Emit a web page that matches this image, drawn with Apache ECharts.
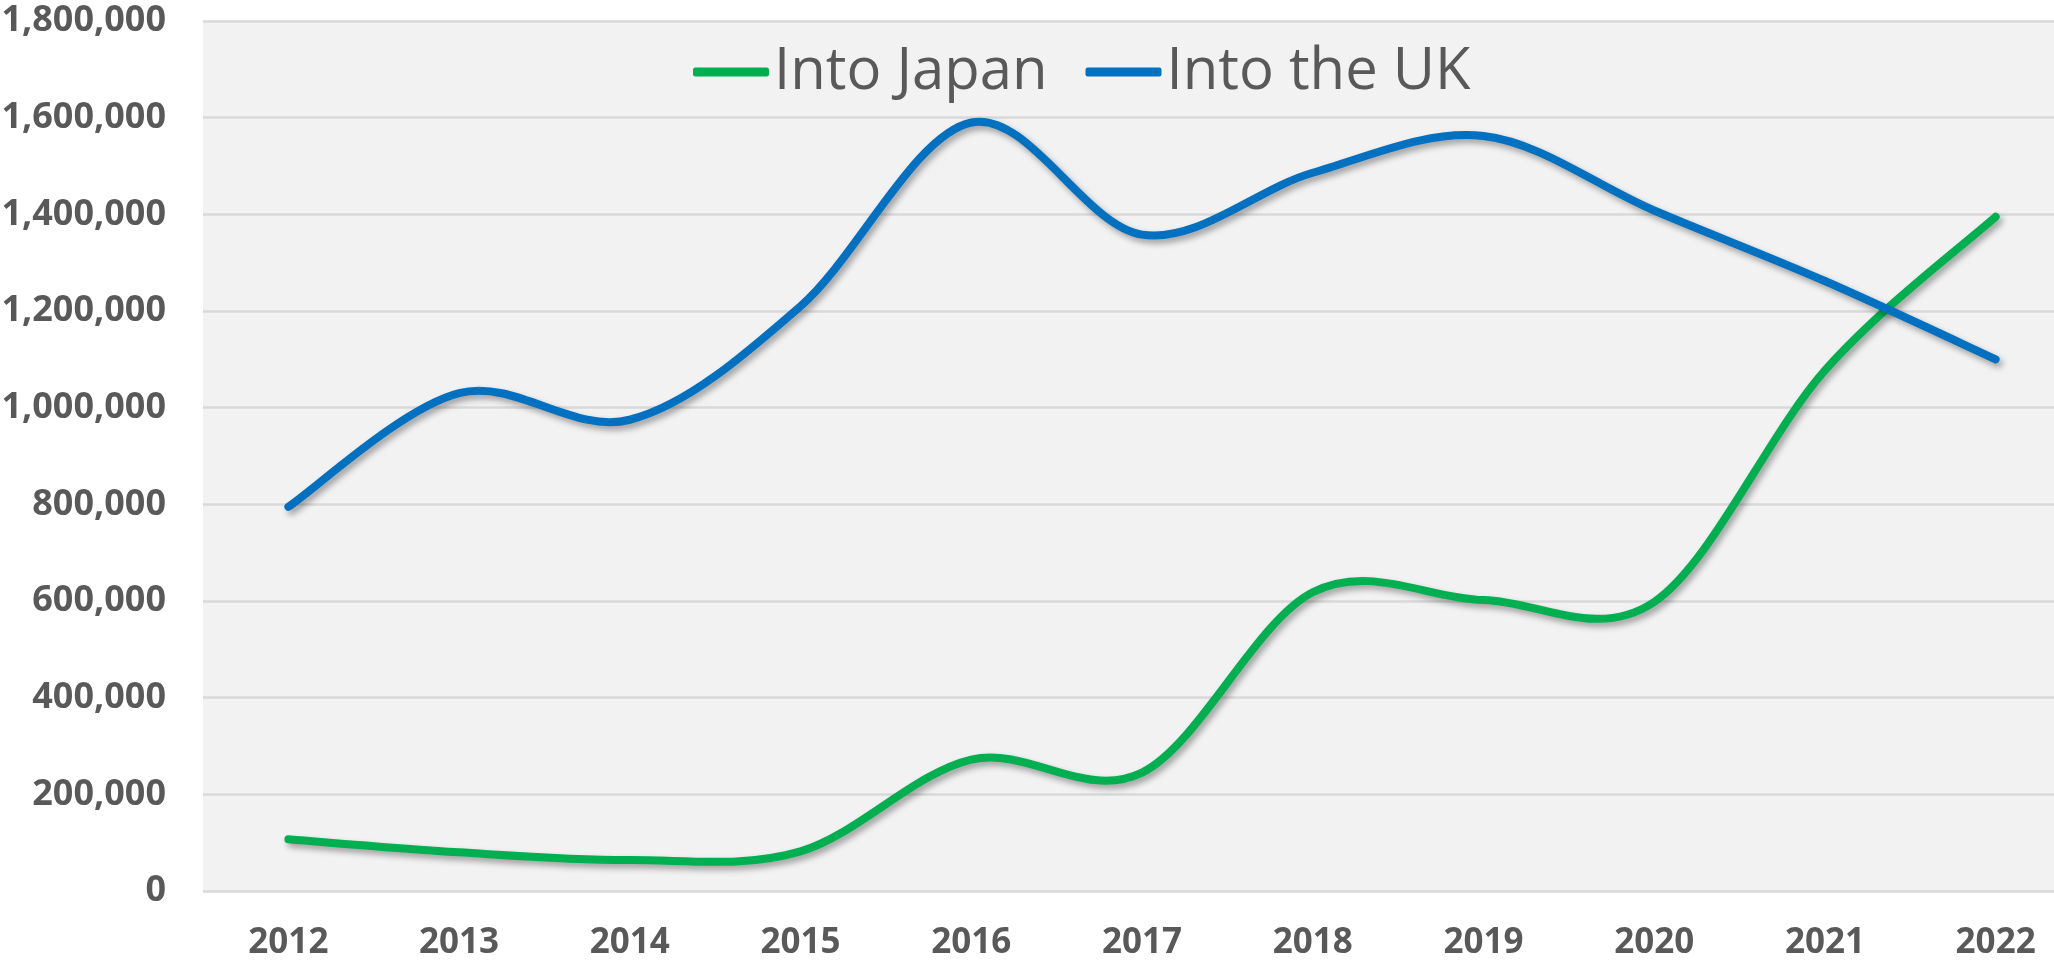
<!DOCTYPE html>
<html>
<head>
<meta charset="utf-8">
<script src="https://cdn.jsdelivr.net/npm/echarts@6/dist/echarts.min.js"></script>
<style>
html,body{margin:0;padding:0;background:#ffffff;}
#chart{width:2054px;height:966px;}
</style>
</head>
<body>
<div id="chart"></div>
<script>
const categories = ['2012','2013','2014','2015','2016','2017','2018','2019','2020','2021','2022'];
const intoJapan = [107000, 80000, 64000, 82000, 272000, 245000, 618000, 602000, 598000, 1077000, 1395000];
const intoUK = [795000, 1030000, 975000, 1210000, 1590000, 1358000, 1486000, 1562000, 1408000, 1262000, 1100000];
const seriesNames = ['Into Japan', 'Into the UK'];
const seriesColors = ['#00B050', '#0070C0'];
const yMin = 0, yMax = 1800000, yStep = 200000;

const FONT = '"Open Sans", "Noto Sans", sans-serif';
const chart = echarts.init(document.getElementById('chart'), null, {renderer: 'canvas'});

// Smoothed line (Excel-style Bezier) drawn through the axis scales via api.coord
function smoothRenderer(values, color) {
  return function (params, api) {
    if (params.dataIndex !== 0) return null;
    const pts = values.map((v, i) => api.coord([i, v]));
    const n = pts.length, t = 1 / 6;
    const P = i => pts[Math.max(0, Math.min(n - 1, i))];
    let d = 'M' + pts[0][0] + ' ' + pts[0][1];
    for (let i = 0; i < n - 1; i++) {
      const p0 = P(i - 1), p1 = P(i), p2 = P(i + 1), p3 = P(i + 2);
      const c1x = p1[0] + (p2[0] - p0[0]) * t, c1y = p1[1] + (p2[1] - p0[1]) * t;
      const c2x = p2[0] - (p3[0] - p1[0]) * t, c2y = p2[1] - (p3[1] - p1[1]) * t;
      d += ' C' + c1x + ' ' + c1y + ' ' + c2x + ' ' + c2y + ' ' + p2[0] + ' ' + p2[1];
    }
    return {
      type: 'path',
      shape: {pathData: d},
      style: {fill: 'none', stroke: color, lineWidth: 8, lineCap: 'round', lineJoin: 'round',
        shadowColor: 'rgba(0,0,0,0.35)', shadowBlur: 6, shadowOffsetX: 3, shadowOffsetY: 4}
    };
  };
}

function makeSeries(name, values, color) {
  return {
    name: name, type: 'custom', clip: false,
    itemStyle: {color: color},
    renderItem: smoothRenderer(values, color),
    encode: {x: 0, y: 1},
    data: values.map((v, i) => [i, v])
  };
}

chart.setOption({
  animation: false,
  backgroundColor: '#ffffff',
  grid: {left: 203, top: 21, width: 1878, height: 870, show: true, backgroundColor: '#f2f2f2',
    borderWidth: 0, outerBoundsMode: 'none'},
  legend: {
    left: 688, top: 38,
    itemWidth: 76, itemHeight: 9, itemGap: 38,
    icon: 'roundRect',
    textStyle: {fontFamily: FONT, fontSize: 58, color: '#595959'},
    data: seriesNames
  },
  xAxis: {
    type: 'category', data: categories, boundaryGap: true,
    axisLine: {show: false}, axisTick: {show: false},
    axisLabel: {fontFamily: FONT, fontWeight: 'bold', fontSize: 35, color: '#595959', margin: 35}
  },
  yAxis: {
    type: 'value', min: yMin, max: yMax, interval: yStep,
    axisLine: {show: false}, axisTick: {show: false},
    splitLine: {show: true, lineStyle: {color: '#d9d9d9', width: 2.5}},
    axisLabel: {fontFamily: FONT, fontWeight: 'bold', fontSize: 36, color: '#595959', margin: 37,
      formatter: v => v.toLocaleString('en-US')}
  },
  series: [
    makeSeries(seriesNames[0], intoJapan, seriesColors[0]),
    makeSeries(seriesNames[1], intoUK, seriesColors[1])
  ]
});
</script>
</body>
</html>
